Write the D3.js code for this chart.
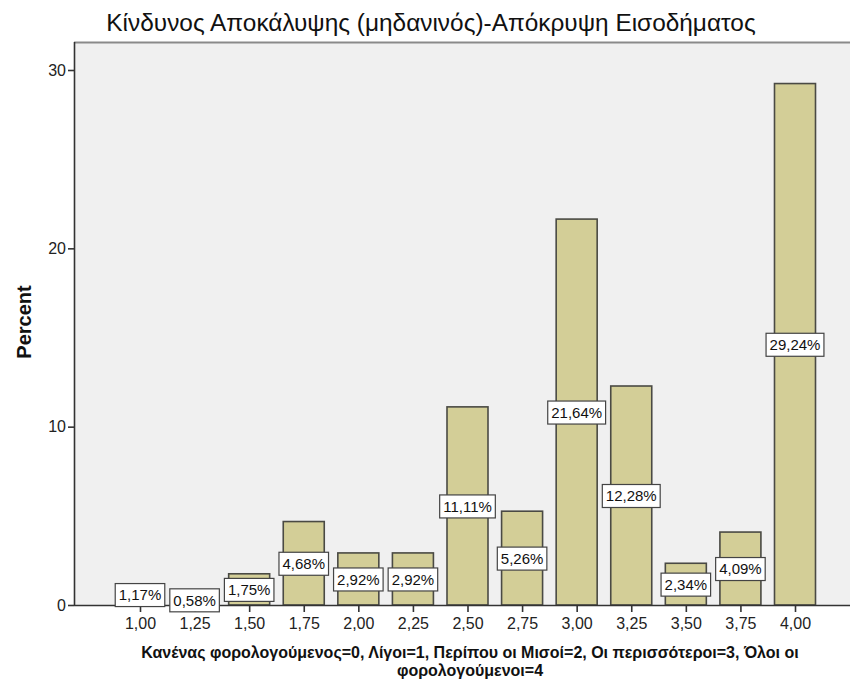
<!DOCTYPE html>
<html>
<head>
<meta charset="utf-8">
<script src="https://cdn.jsdelivr.net/npm/d3@7"></script>
<style>
  body { margin: 0; background: #fff; }
  text { font-family: Arial, "Liberation Sans", sans-serif; }
</style>
</head>
<body>
<svg id="chart" width="850" height="679"></svg>
<script>
// data
const categories = [1.00, 1.25, 1.50, 1.75, 2.00, 2.25, 2.50, 2.75, 3.00, 3.25, 3.50, 3.75, 4.00];
const percents = [1.17, 0.58, 1.75, 4.68, 2.92, 2.92, 11.11, 5.26, 21.64, 12.28, 2.34, 4.09, 29.24];
const yTicks = [0, 10, 20, 30];

const titleText = "Κίνδυνος Αποκάλυψης (μηδανινός)-Απόκρυψη Εισοδήματος";
const xTitleLines = [
  "Κανένας φορολογούμενος=0,  Λίγοι=1,  Περίπου οι Μισοί=2,  Οι περισσότεροι=3,  Όλοι οι",
  "φορολογούμενοι=4"
];

const svg = d3.select("#chart");
const plotLeft = 74, plotTop = 42, plotRight = 850, plotBottom = 605;

const x = d3.scaleLinear().domain([1, 4]).range([140, 795]);
const y = d3.scaleLinear().domain([0, 30]).range([plotBottom, 70]);
const barW = 41;
const fmt = v => d3.format(".2f")(v).replace(".", ",");

// plot background
svg.append("rect")
  .attr("x", plotLeft).attr("y", plotTop)
  .attr("width", plotRight - plotLeft).attr("height", plotBottom - plotTop)
  .attr("fill", "#f0f0f0");
svg.append("line")
  .attr("x1", plotLeft).attr("x2", plotRight).attr("y1", plotTop + 0.5).attr("y2", plotTop + 0.5)
  .attr("stroke", "#8a8a8a").attr("stroke-width", 2);

// bars
svg.append("g").selectAll("rect")
  .data(categories)
  .join("rect")
  .attr("x", (d) => x(d) - barW / 2)
  .attr("y", (d, i) => y(percents[i]))
  .attr("width", barW)
  .attr("height", (d, i) => plotBottom - y(percents[i]))
  .attr("fill", "#d3ce97")
  .attr("stroke", "#4a4a44")
  .attr("stroke-width", 1.6);

// axes
const xAxis = svg.append("g")
  .attr("transform", `translate(0,${plotBottom})`)
  .call(d3.axisBottom(x).tickValues(categories).tickFormat(fmt).tickSize(7).tickPadding(6));
const yAxis = svg.append("g")
  .attr("transform", `translate(${plotLeft},0)`)
  .call(d3.axisLeft(y).tickValues(yTicks).tickSize(6).tickPadding(2));

xAxis.select(".domain").attr("d", `M${plotLeft},0.5H${plotRight}`).attr("stroke", "#333").attr("stroke-width", 1.6);
yAxis.select(".domain").attr("d", `M0.5,${plotTop}V${plotBottom}`).attr("stroke", "#333").attr("stroke-width", 1.6);
svg.selectAll(".tick line").attr("stroke", "#333").attr("stroke-width", 1.6);
svg.selectAll(".tick text").attr("font-size", 16).attr("fill", "#222")
  .attr("font-family", "Arial, 'Liberation Sans', sans-serif");

// value labels at bar mid-height, box sized to its text
const labels = svg.append("g").selectAll("g")
  .data(categories)
  .join("g")
  .attr("transform", (d, i) => `translate(${x(d)},${y(percents[i] / 2)})`);
labels.append("rect")
  .attr("fill", "#fff").attr("stroke", "#444").attr("stroke-width", 1.2);
labels.append("text")
  .attr("text-anchor", "middle").attr("dy", "0.36em").attr("y", 0.5)
  .attr("font-size", 15).attr("fill", "#111")
  .text((d, i) => fmt(percents[i]) + "%")
  .each(function () {
    const w = this.getComputedTextLength() + 7;
    d3.select(this.parentNode).select("rect")
      .attr("x", -w / 2).attr("y", -11).attr("width", w).attr("height", 23);
  });

// titles
svg.append("text")
  .attr("x", 431).attr("y", 31)
  .attr("text-anchor", "middle").attr("font-size", 24.4).attr("fill", "#111")
  .text(titleText);

svg.append("text")
  .attr("transform", "translate(31,322) rotate(-90)")
  .attr("text-anchor", "middle").attr("font-size", 20).attr("font-weight", "bold").attr("fill", "#111")
  .text("Percent");

// x title: two lines
svg.append("g").selectAll("text")
  .data(xTitleLines)
  .join("text")
  .attr("x", 470).attr("y", (d, i) => 658 + i * 18)
  .attr("text-anchor", "middle").attr("font-size", 16).attr("font-weight", "bold").attr("fill", "#111")
  .text(d => d);
</script>
</body>
</html>
